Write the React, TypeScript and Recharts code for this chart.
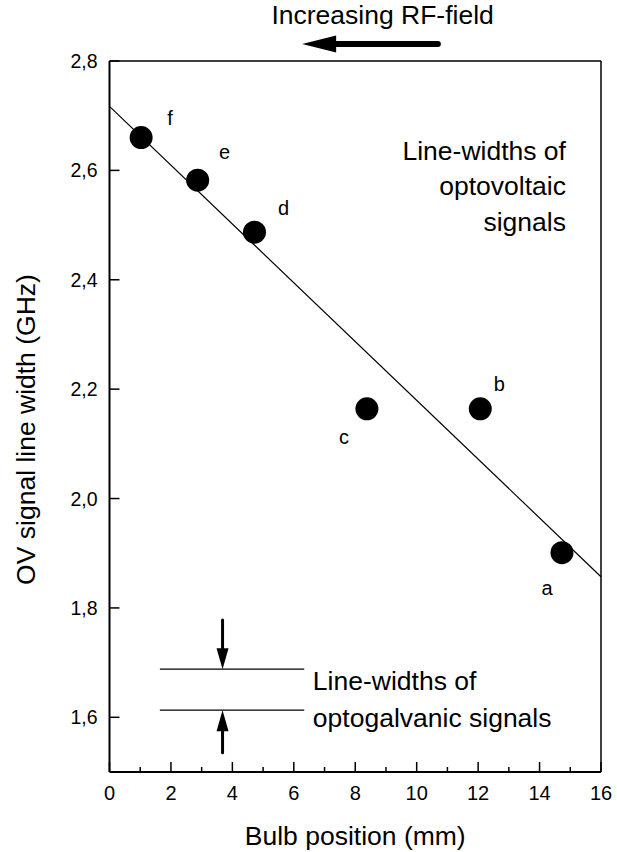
import React from "react";
import {
  ComposedChart,
  Scatter,
  XAxis,
  YAxis,
  ReferenceLine,
  ReferenceDot,
  LabelList,
} from "recharts";

const bulbPos = [1.03, 2.87, 4.72, 8.38, 12.07, 14.73];
const lineWidth = [2.66, 2.582, 2.487, 2.164, 2.164, 1.901];
const pointNames = ["f", "e", "d", "c", "b", "a"];

// least squares line drawn in the figure
const fitX = [0, 16];
const fitY = [2.717, 1.857];

const xTicks = [0, 1, 2, 3, 4, 5, 6, 7, 8, 9, 10, 11, 12, 13, 14, 15, 16];
const yTicks = [1.6, 1.8, 2.0, 2.2, 2.4, 2.6, 2.8];

// optogalvanic reference width
const ogX = [1.64, 6.34];
const ogY = [1.688, 1.613];
const ogArrowX = 3.68;
const ogArrowTail = [1.778, 1.535];

// RF-field arrow above the frame
const rfArrowX = [10.69, 6.27];
const rfArrowY = 2.831;

const FONT = "'Liberation Sans', Arial, Helvetica, sans-serif";

const points = bulbPos.map((x, i) => ({ x, y: lineWidth[i], name: pointNames[i] }));

const labelOffset: Record<string, [number, number]> = {
  f: [29, -20],
  e: [27, -28],
  d: [29, -24],
  c: [-23, 28],
  b: [19, -25],
  a: [-15, 35],
};

const XTick = (props: any) => {
  const { x, y, payload } = props;
  const major = payload.value % 2 === 0;
  return (
    <g>
      <line x1={x} y1={y} x2={x} y2={y - (major ? 10 : 5)} stroke="#000" strokeWidth={1.5} />
      {major && (
        <text x={x} y={y + 28} textAnchor="middle" fontSize={20} fontFamily={FONT} fill="#000">
          {payload.value}
        </text>
      )}
    </g>
  );
};

const YTick = (props: any) => {
  const { x, y, payload } = props;
  return (
    <g>
      <line x1={x} y1={y} x2={x + 10} y2={y} stroke="#000" strokeWidth={1.5} />
      <text x={x - 12} y={y} dy="0.36em" textAnchor="end" fontSize={19.5} fontFamily={FONT} fill="#000">
        {payload.value.toFixed(1).replace(".", ",")}
      </text>
    </g>
  );
};

const Arrow = (head: number, halfW: number, shaft: number) => (props: any) => {
  const { x1, y1, x2, y2 } = props;
  const dx = x2 - x1;
  const dy = y2 - y1;
  const len = Math.sqrt(dx * dx + dy * dy);
  const ux = dx / len;
  const uy = dy / len;
  const bx = x2 - ux * head;
  const by = y2 - uy * head;
  return (
    <g>
      <line x1={x1} y1={y1} x2={bx} y2={by} stroke="#000" strokeWidth={shaft} strokeLinecap="round" />
      <polygon
        points={`${x2},${y2} ${bx - uy * halfW},${by + ux * halfW} ${bx + uy * halfW},${by - ux * halfW}`}
        fill="#000"
      />
    </g>
  );
};

const Dot = (props: any) => <circle cx={props.cx} cy={props.cy} r={11.5} fill="#000" />;

const PointLabel = (props: any) => {
  const { x, y, width, height, value } = props;
  const [ox, oy] = labelOffset[value] || [0, 0];
  const cx = x + (width || 0) / 2;
  const cy = y + (height || 0) / 2;
  return (
    <text x={cx + ox} y={cy + oy} dy="0.36em" textAnchor="middle" fontSize={20} fontFamily={FONT} fill="#000">
      {value}
    </text>
  );
};

const textShape = (lines: string[], anchor: "start" | "end" | "middle", gap: number) => (p: any) => (
  <text x={p.cx} y={p.cy} textAnchor={anchor} fontSize={26.5} fontFamily={FONT} fill="#000">
    {lines.map((l, i) => (
      <tspan key={i} x={p.cx} dy={i === 0 ? "0.36em" : gap}>
        {l}
      </tspan>
    ))}
  </text>
);

export default function App() {
  return (
    <div style={{ position: "absolute", left: 0, top: 0, background: "#fff" }}>
      <ComposedChart
        width={617}
        height={852}
        margin={{ top: 61, right: 16, bottom: 20, left: 49.5 }}
      >
        <XAxis
          type="number"
          dataKey="x"
          domain={[0, 16]}
          ticks={xTicks}
          interval={0}
          tickSize={0}
          tickMargin={0}
          height={60}
          tick={<XTick />}
          axisLine={{ stroke: "#000", strokeWidth: 2 }}
          label={{
            content: (p: any) => (
              <text
                x={p.viewBox.x + p.viewBox.width / 2}
                y={p.viewBox.y + 73}
                textAnchor="middle"
                fontSize={26.5}
                fontFamily={FONT}
                fill="#000"
              >
                Bulb position (mm)
              </text>
            ),
          }}
        />
        <YAxis
          type="number"
          dataKey="y"
          domain={[1.5, 2.8]}
          ticks={yTicks}
          interval={0}
          tickSize={0}
          tickMargin={0}
          width={60}
          tick={<YTick />}
          axisLine={{ stroke: "#000", strokeWidth: 2 }}
          allowDataOverflow
          label={{
            content: (p: any) => {
              const cx = 25;
              const cy = p.viewBox.y + p.viewBox.height / 2 + 13;
              return (
                <text
                  x={cx}
                  y={cy}
                  dy="0.36em"
                  textAnchor="middle"
                  fontSize={26.5}
                  fontFamily={FONT}
                  fill="#000"
                  transform={`rotate(-90, ${cx}, ${cy})`}
                >
                  OV signal line width (GHz)
                </text>
              );
            },
          }}
        />
        <ReferenceLine y={2.8} stroke="#000" strokeWidth={1.5} />
        <ReferenceLine x={16} stroke="#000" strokeWidth={1.5} />
        <ReferenceLine
          segment={[
            { x: fitX[0], y: fitY[0] },
            { x: fitX[1], y: fitY[1] },
          ]}
          stroke="#000"
          strokeWidth={1.2}
        />
        {ogY.map((y, i) => (
          <ReferenceLine
            key={"og" + i}
            segment={[
              { x: ogX[0], y },
              { x: ogX[1], y },
            ]}
            stroke="#000"
            strokeWidth={1.2}
          />
        ))}
        {ogY.map((y, i) => (
          <ReferenceLine
            key={"oga" + i}
            segment={[
              { x: ogArrowX, y: ogArrowTail[i] },
              { x: ogArrowX, y },
            ]}
            shape={Arrow(21, 6, 3)}
            ifOverflow="visible"
          />
        ))}
        <ReferenceLine
          segment={[
            { x: rfArrowX[0], y: rfArrowY },
            { x: rfArrowX[1], y: rfArrowY },
          ]}
          shape={Arrow(34, 8.5, 6)}
          ifOverflow="visible"
        />
        <ReferenceDot
          x={8.89}
          y={2.886}
          r={0}
          ifOverflow="visible"
          shape={textShape(["Increasing RF-field"], "middle", 0)}
        />
        <ReferenceDot
          x={14.86}
          y={2.637}
          r={0}
          ifOverflow="visible"
          shape={textShape(["Line-widths of", "optovoltaic", "signals"], "end", 35.5)}
        />
        <ReferenceDot
          x={6.62}
          y={1.668}
          r={0}
          ifOverflow="visible"
          shape={textShape(["Line-widths of", "optogalvanic signals"], "start", 37)}
        />
        <Scatter data={points} fill="#000" shape={<Dot />} isAnimationActive={false}>
          <LabelList dataKey="name" content={<PointLabel />} />
        </Scatter>
      </ComposedChart>
    </div>
  );
}
